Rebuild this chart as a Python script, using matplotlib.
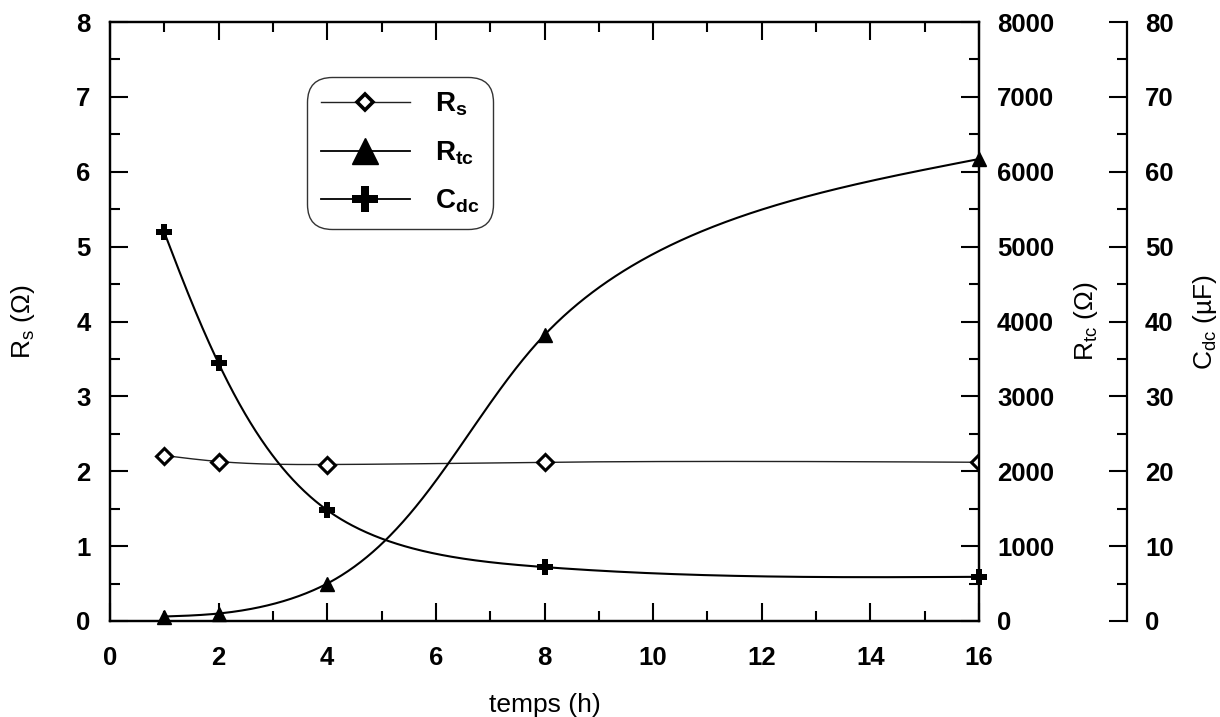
import numpy as np
import matplotlib
matplotlib.use("Agg")
import matplotlib.pyplot as plt
from matplotlib.lines import Line2D
from matplotlib.ticker import MultipleLocator

plt.rcParams['font.family'] = ['Liberation Sans', 'DejaVu Sans']
plt.rcParams['mathtext.fontset'] = 'custom'
plt.rcParams['mathtext.rm'] = 'Liberation Sans'
plt.rcParams['mathtext.it'] = 'Liberation Sans:italic'
plt.rcParams['mathtext.bf'] = 'Liberation Sans:bold'

# ---- data ----
temps = [1, 2, 4, 8, 16]
rs = [2.21, 2.13, 2.09, 2.12, 2.12]          # ohm
rtc = [60, 100, 500, 3820, 6170]             # ohm
cdc = [51.9, 34.4, 14.8, 7.2, 5.9]           # uF
x_ticks = [0, 2, 4, 6, 8, 10, 12, 14, 16]


def natural_coeffs(t, v):
    k = len(t)
    h = np.diff(t)
    A = np.zeros((k, k))
    b = np.zeros(k)
    A[0, 0] = A[-1, -1] = 1
    for i in range(1, k - 1):
        A[i, i - 1] = h[i - 1]
        A[i, i] = 2 * (h[i - 1] + h[i])
        A[i, i + 1] = h[i]
        b[i] = 6 * ((v[i + 1] - v[i]) / h[i] - (v[i] - v[i - 1]) / h[i - 1])
    return np.linalg.solve(A, b)


def eval_spline(t, v, M, tq):
    h = np.diff(t)
    k = len(t)
    out = np.empty_like(tq)
    for j, tv in enumerate(tq):
        i = min(np.searchsorted(t, tv, side='right') - 1, k - 2)
        a = t[i + 1] - tv
        c = tv - t[i]
        out[j] = (M[i] * a ** 3 / (6 * h[i]) + M[i + 1] * c ** 3 / (6 * h[i])
                  + (v[i] / h[i] - M[i] * h[i] / 6) * a
                  + (v[i + 1] / h[i] - M[i + 1] * h[i] / 6) * c)
    return out


def parametric_spline(x, y, xscale, yscale, n=600):
    """parametric natural cubic spline (chord-length) in screen-like space"""
    px = np.asarray(x, float) * xscale
    py = np.asarray(y, float) * yscale
    t = np.concatenate([[0], np.cumsum(np.hypot(np.diff(px), np.diff(py)))])
    tq = np.linspace(0, t[-1], n)
    sx = eval_spline(t, px, natural_coeffs(t, px), tq)
    sy = eval_spline(t, py, natural_coeffs(t, py), tq)
    return sx / xscale, sy / yscale


fig = plt.figure(figsize=(12.2, 7.17), dpi=100)
ax = fig.add_axes([110 / 1220, 96 / 717, 869 / 1220, 599 / 717])
ax2 = ax.twinx()
ax3 = ax.twinx()
ax3.spines['right'].set_position(('axes', 1 + 148 / 869))

XS = 869 / 16

# curves
xs, ys = parametric_spline(temps, rs, XS, 599 / 8)
ax.plot(xs, ys, color='#222222', lw=1.0, zorder=2)
ax.plot(temps, rs, ls='none', marker='D', ms=8, mfc='white', mec='black', mew=2.2, zorder=3)

xs, ys = parametric_spline(temps, rtc, XS, 599 / 8000)
ax2.plot(xs, ys, color='black', lw=1.5, zorder=2)
ax2.plot(temps, rtc, ls='none', marker='^', ms=10, color='black', zorder=3, clip_on=False)

xs, ys = parametric_spline(temps, cdc, XS, 599 / 80)
ax3.plot(xs, ys, color='black', lw=1.5, zorder=2)
ax3.plot(temps, cdc, ls='none', marker='P', ms=12, color='black', mew=0, zorder=3, clip_on=False)

ax.set_xlim(0, 16)
ax.set_ylim(0, 8)
ax2.set_ylim(0, 8000)
ax3.set_ylim(0, 80)

ax.set_xticks(x_ticks)
ax.xaxis.set_minor_locator(MultipleLocator(1))
ax.yaxis.set_major_locator(MultipleLocator(1))
ax.yaxis.set_minor_locator(MultipleLocator(0.5))
ax2.yaxis.set_major_locator(MultipleLocator(1000))
ax2.yaxis.set_minor_locator(MultipleLocator(500))
ax3.yaxis.set_major_locator(MultipleLocator(10))
ax3.yaxis.set_minor_locator(MultipleLocator(5))

for a in (ax, ax2, ax3):
    for s in a.spines.values():
        s.set_linewidth(1.6)
    a.tick_params(which='major', direction='in', length=13, width=1.5)
    a.tick_params(which='minor', direction='in', length=7, width=1.5)

ax.tick_params(axis='x', which='both', top=True, bottom=True, pad=18)
ax.tick_params(axis='y', which='both', left=True, right=False, pad=14)
ax2.tick_params(axis='y', which='both', pad=13)
ax3.tick_params(axis='y', which='both', pad=13)
ax3.spines['left'].set_visible(False)
ax3.spines['top'].set_visible(False)
ax3.spines['bottom'].set_visible(False)

for a in (ax, ax2, ax3):
    for lab in a.get_xticklabels() + a.get_yticklabels():
        lab.set_fontsize(18.5)
        lab.set_fontweight('bold')

ax.set_xlabel('temps (h)', fontsize=19)
ax.xaxis.set_label_coords(0.5, -0.12)
ax.set_ylabel(r'R$_{\rm s}$ (Ω)', fontsize=19)
ax.yaxis.set_label_coords((23 - 110) / 869, 0.5)
ax.yaxis.label.set_verticalalignment('center')
ax2.set_ylabel(r'R$_{\rm tc}$ (Ω)', fontsize=19, rotation=90)
ax2.yaxis.set_label_coords((1086 - 110) / 869, 0.5)
ax2.yaxis.label.set_verticalalignment('center')
ax3.set_ylabel(r'C$_{\rm dc}$ (µF)', fontsize=19, rotation=90)
ax3.yaxis.set_label_coords((1205 - 110) / 869, 0.5)
ax3.yaxis.label.set_verticalalignment('center')

handles = [
    Line2D([], [], color='#222222', lw=1.0, marker='D', ms=8, mfc='white', mec='black', mew=2.6),
    Line2D([], [], color='black', lw=1.3, marker='^', ms=19),
    Line2D([], [], color='black', lw=1.3, marker='P', ms=19, mew=0),
]
labels = [r'$\mathbf{R_s}$', r'$\mathbf{R_{tc}}$', r'$\mathbf{C_{dc}}$']
leg = ax3.legend(handles, labels, loc='upper left',
                 bbox_to_anchor=(307 / 1220, 1 - 77 / 717), bbox_transform=fig.transFigure,
                 borderaxespad=0, fontsize=20, handlelength=3.2, handletextpad=0.9,
                 labelspacing=0.75, borderpad=0.5, fancybox=True, frameon=True)
frame = leg.get_frame()
frame.set_edgecolor('black')
frame.set_linewidth(1.0)
frame.set_boxstyle('round', pad=0, rounding_size=0.9)

fig.savefig('out.png', dpi=100, facecolor='white')
